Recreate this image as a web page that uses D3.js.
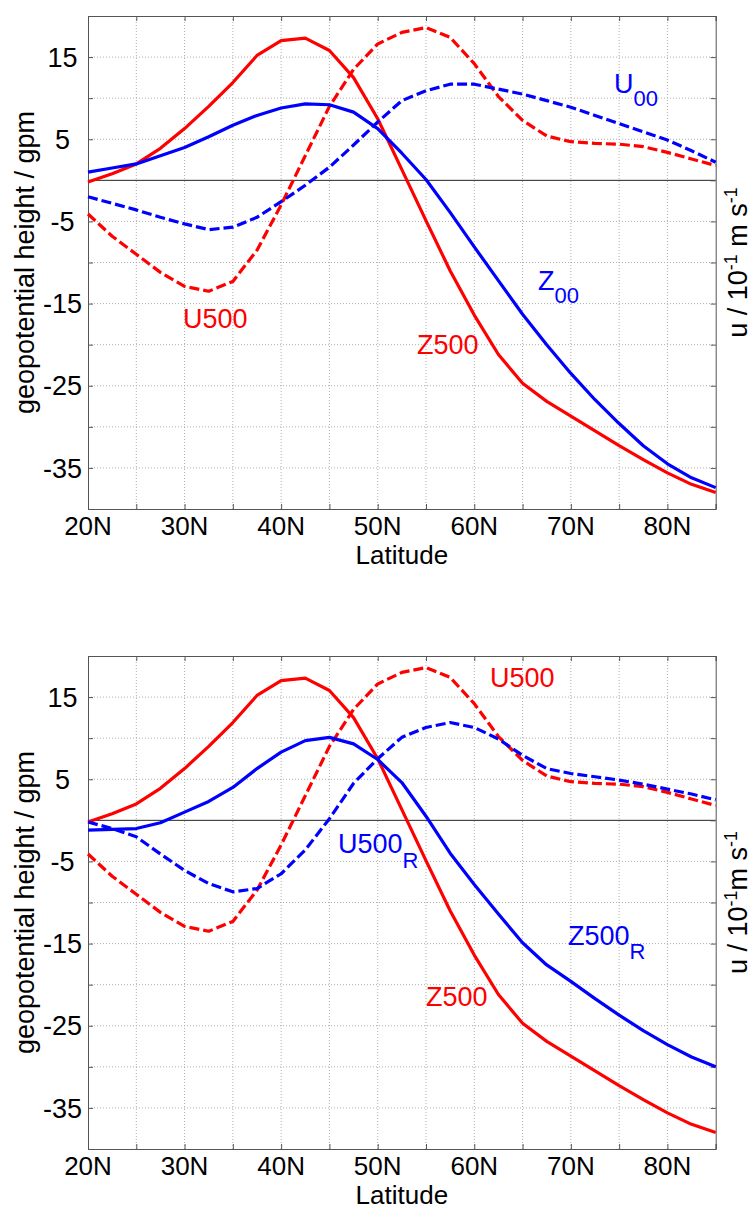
<!DOCTYPE html>
<html>
<head>
<meta charset="utf-8">
<script src="https://cdn.jsdelivr.net/npm/d3@7"></script>
<style>
  html, body { margin: 0; padding: 0; background: #fff; }
  svg { display: block; }
  text { font-family: "Liberation Sans", Arial, Helvetica, sans-serif; }
</style>
</head>
<body>
<svg id="chart" width="756" height="1210"></svg>
<script>
// ---------------- DATA ----------------
const latitudes = [20, 22.5, 25, 27.5, 30, 32.5, 35, 37.5, 40, 42.5, 45, 47.5, 50, 52.5,
                   55, 57.5, 60, 62.5, 65, 67.5, 70, 72.5, 75, 77.5, 80, 82.5, 85];

const z500 = [-0.2, 0.8, 2.0, 3.9, 6.3, 9.0, 11.9, 15.2, 17.0, 17.3, 15.8, 12.5, 7.5, 1.3,
              -4.9, -11.0, -16.4, -21.2, -24.7, -26.9, -28.7, -30.5, -32.3, -34.0, -35.6, -37.0, -38.0];

const u500 = [-4.1, -6.8, -9.0, -11.2, -12.9, -13.5, -12.3, -8.5, -3.0, 3.0, 9.0, 13.5, 16.6, 18.0,
              18.6, 17.4, 14.2, 10.2, 7.3, 5.4, 4.7, 4.5, 4.4, 4.1, 3.4, 2.6, 1.8];

const z00 = [1.0, 1.5, 2.0, 3.0, 4.0, 5.3, 6.7, 7.9, 8.8, 9.3, 9.2, 8.3, 6.3, 3.3,
             0.1, -3.9, -8.1, -12.2, -16.3, -20.0, -23.5, -26.7, -29.6, -32.3, -34.5, -36.2, -37.4];

const u00 = [-2.0, -2.8, -3.6, -4.5, -5.3, -6.0, -5.7, -4.5, -2.6, -0.6, 1.6, 4.3, 7.1, 9.7,
             10.9, 11.7, 11.7, 11.1, 10.5, 9.7, 8.9, 7.9, 6.9, 5.9, 4.9, 3.6, 2.2];

const z500R = [-1.2, -1.1, -1.0, -0.3, 1.0, 2.3, 4.0, 6.3, 8.3, 9.7, 10.1, 9.3, 7.4, 4.6,
               0.5, -4.0, -7.8, -11.4, -14.9, -17.6, -19.6, -21.7, -23.7, -25.6, -27.3, -28.8, -30.0];

const u500R = [-0.2, -1.0, -2.0, -4.1, -6.1, -7.7, -8.7, -8.3, -6.5, -3.6, 0.2, 4.5, 7.5, 10.1,
               11.3, 11.9, 11.3, 9.9, 7.9, 6.3, 5.7, 5.3, 4.9, 4.4, 3.8, 3.2, 2.5];

const xTicks = [20, 25, 30, 35, 40, 45, 50, 55, 60, 65, 70, 75, 80, 85];
const xTickLabels = {20: "20N", 30: "30N", 40: "40N", 50: "50N", 60: "60N", 70: "70N", 80: "80N"};
const yTicks = [-40, -35, -30, -25, -20, -15, -10, -5, 0, 5, 10, 15, 20];
const yTickLabels = [-35, -25, -15, -5, 5, 15];

const RED = "#ff0000", BLUE = "#0000ff";

// ---------------- DRAW ----------------
const svg = d3.select("#chart");
const left = 88, right = 715.7;
const FS = 27;
const FSX = 26;

function panel(top, bottom, series, labels, rightLabelParts) {
  const x = d3.scaleLinear().domain([20, 85]).range([left, right]);
  const y = d3.scaleLinear().domain([-40, 20]).range([bottom, top]);
  const g = svg.append("g");

  // grid
  g.append("g").selectAll("line").data(xTicks.filter(d => d > 20 && d < 85)).join("line")
    .attr("x1", d => x(d)).attr("x2", d => x(d)).attr("y1", top).attr("y2", bottom)
    .attr("stroke", "#9a9a9a").attr("stroke-width", 0.8).attr("stroke-dasharray", "1,2");
  g.append("g").selectAll("line").data(yTicks.filter(d => d > -40 && d < 20 && d !== 0)).join("line")
    .attr("x1", left).attr("x2", right).attr("y1", d => y(d)).attr("y2", d => y(d))
    .attr("stroke", "#9a9a9a").attr("stroke-width", 0.8).attr("stroke-dasharray", "1,2");

  // zero line
  g.append("line").attr("x1", left).attr("x2", right).attr("y1", y(0)).attr("y2", y(0))
    .attr("stroke", "#222").attr("stroke-width", 1);

  // axes with inward ticks (all four sides)
  const axB = d3.axisBottom(x).tickValues(xTicks).tickSize(-5).tickFormat("");
  const axT = d3.axisTop(x).tickValues(xTicks).tickSize(-5).tickFormat("");
  const axL = d3.axisLeft(y).tickValues(yTicks).tickSize(-5).tickFormat("");
  const axR = d3.axisRight(y).tickValues(yTicks).tickSize(-5).tickFormat("");
  const styleAxis = s => { s.selectAll("path,line").attr("stroke", "#555").attr("stroke-width", 1); };
  g.append("g").attr("transform", `translate(0,${bottom})`).call(axB).call(styleAxis);
  g.append("g").attr("transform", `translate(0,${top})`).call(axT).call(styleAxis);
  g.append("g").attr("transform", `translate(${left},0)`).call(axL).call(styleAxis);
  g.append("g").attr("transform", `translate(${right},0)`).call(axR).call(styleAxis);

  // tick labels
  g.append("g").selectAll("text").data(Object.keys(xTickLabels).map(Number)).join("text")
    .attr("x", d => x(d)).attr("y", bottom + 26)
    .attr("text-anchor", "middle").attr("font-size", FSX).attr("fill", "#000")
    .text(d => xTickLabels[d]);
  g.append("g").selectAll("text").data(yTickLabels).join("text")
    .attr("x", 62.5).attr("y", d => y(d)).attr("dy", "0.36em")
    .attr("text-anchor", "middle").attr("font-size", FS).attr("fill", "#000")
    .text(d => String(d));

  // axis titles
  g.append("text").attr("x", (left + right) / 2).attr("y", bottom + 55)
    .attr("text-anchor", "middle").attr("font-size", FSX).text("Latitude");
  g.append("text").attr("transform", `translate(34,${(top + bottom) / 2}) rotate(-90)`)
    .attr("text-anchor", "middle").attr("font-size", FS).text("geopotential height / gpm");

  const rt = g.append("text").attr("transform", `translate(747,${(top + bottom) / 2}) rotate(-90)`)
    .attr("text-anchor", "middle").attr("font-size", FS);
  rightLabelParts.forEach(p => {
    const ts = rt.append("tspan").text(p.t);
    if (p.sup) ts.attr("font-size", 18).attr("baseline-shift", "super");
  });

  // series
  const line = d3.line().x((d, i) => x(latitudes[i])).y(d => y(d));
  series.forEach(s => {
    g.append("path").datum(s.values)
      .attr("d", line).attr("fill", "none")
      .attr("stroke", s.color).attr("stroke-width", 3.2)
      .attr("stroke-linejoin", "round")
      .attr("stroke-dasharray", s.dashed ? "10,4" : null);
  });

  // curve labels
  labels.forEach(l => {
    const t = g.append("text").attr("x", l.x).attr("y", l.y)
      .attr("font-size", FS).attr("fill", l.color);
    t.append("tspan").text(l.main);
    if (l.sub) t.append("tspan").attr("font-size", 22).attr("dy", l.subDy).text(l.sub);
  });
}

panel(16, 509,
  [
    {values: z500, color: RED, dashed: false},
    {values: u500, color: RED, dashed: true},
    {values: z00, color: BLUE, dashed: false},
    {values: u00, color: BLUE, dashed: true}
  ],
  [
    {main: "U", sub: "00", x: 614, y: 93, color: BLUE, subDy: 13},
    {main: "Z", sub: "00", x: 538, y: 290, color: BLUE, subDy: 13},
    {main: "U500", x: 183, y: 328, color: RED},
    {main: "Z500", x: 417, y: 354, color: RED}
  ],
  [{t: "u / 10"}, {t: "-1", sup: true}, {t: " m s"}, {t: "-1", sup: true}]
);

panel(656, 1149,
  [
    {values: z500, color: RED, dashed: false},
    {values: u500, color: RED, dashed: true},
    {values: z500R, color: BLUE, dashed: false},
    {values: u500R, color: BLUE, dashed: true}
  ],
  [
    {main: "U500", x: 490, y: 687, color: RED},
    {main: "U500", sub: "R", x: 338, y: 853, color: BLUE, subDy: 15},
    {main: "Z500", sub: "R", x: 568, y: 945, color: BLUE, subDy: 14},
    {main: "Z500", x: 426, y: 1006, color: RED}
  ],
  [{t: "u / 10"}, {t: "-1", sup: true}, {t: "m s"}, {t: "-1", sup: true}]
);
</script>
</body>
</html>
